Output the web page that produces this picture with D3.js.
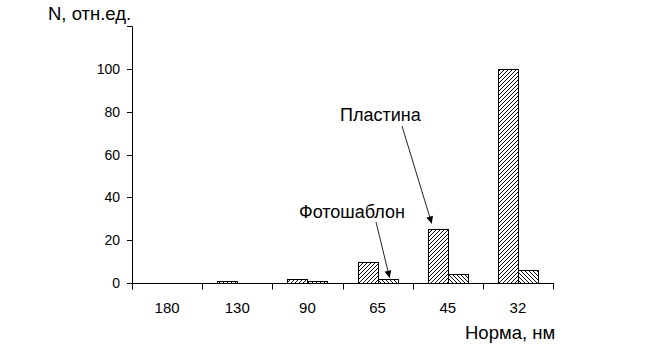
<!DOCTYPE html>
<html>
<head>
<meta charset="utf-8">
<script src="https://cdn.jsdelivr.net/npm/d3@7"></script>
<style>
  html, body { margin: 0; padding: 0; background: #fff; }
  svg text { font-family: "Liberation Sans", Arial, sans-serif; fill: #000; }
</style>
</head>
<body>
<div id="chart"></div>
<script>
// ---- data ----
const categories = ["180", "130", "90", "65", "45", "32"];
const plastina   = [0, 1, 2, 10, 25, 100];   // "Пластина"
const photomask  = [0, 0, 1, 2, 4, 6];       // "Фотошаблон"
const yTicks     = [0, 20, 40, 60, 80, 100, 120];
const yLabels    = [0, 20, 40, 60, 80, 100];

const width = 663, height = 352;
const margin = { top: 26, right: 110, bottom: 69, left: 132 };
const innerW = width - margin.left - margin.right;
const innerH = height - margin.top - margin.bottom;

const svg = d3.select("#chart").append("svg")
  .attr("width", width)
  .attr("height", height);

// hatch patterns
const defs = svg.append("defs");
defs.append("pattern")
  .attr("id", "hatchFwd")
  .attr("patternUnits", "userSpaceOnUse")
  .attr("width", 4).attr("height", 4)
  .append("path")
  .attr("d", "M-1,1 L1,-1 M0,4 L4,0 M3,5 L5,3")
  .attr("stroke", "#000").attr("stroke-width", 1);
defs.append("pattern")
  .attr("id", "hatchBack")
  .attr("patternUnits", "userSpaceOnUse")
  .attr("width", 4).attr("height", 4)
  .append("path")
  .attr("d", "M-1,3 L1,5 M0,0 L4,4 M3,-1 L5,1")
  .attr("stroke", "#000").attr("stroke-width", 1);
defs.append("marker")
  .attr("id", "arrowHead")
  .attr("viewBox", "0 0 10 10")
  .attr("refX", 10).attr("refY", 5)
  .attr("markerWidth", 9).attr("markerHeight", 7)
  .attr("markerUnits", "userSpaceOnUse")
  .attr("orient", "auto")
  .append("path")
  .attr("d", "M0,0 L10,5 L0,10 Z")
  .attr("fill", "#000");

const g = svg.append("g")
  .attr("transform", `translate(${margin.left},${margin.top})`);

// ---- scales ----
const x = d3.scaleBand().domain(categories).range([0, innerW]).padding(0);
const sub = d3.scaleBand().domain(["plastina", "photomask"])
  .range([15, x.bandwidth() - 15]).padding(0);
const y = d3.scaleLinear().domain([0, 120]).range([innerH, 0]);

const series = [
  { key: "plastina", values: plastina, fill: "url(#hatchFwd)" },
  { key: "photomask", values: photomask, fill: "url(#hatchBack)" }
];

// ---- bars ----
series.forEach(s => {
  g.selectAll(null)
    .data(categories.map((c, i) => ({ c, v: s.values[i] })).filter(d => d.v > 0))
    .enter()
    .append("rect")
    .attr("x", d => Math.round(x(d.c) + sub(s.key)) + 0.5)
    .attr("y", d => Math.round(y(d.v)) + 0.5)
    .attr("width", Math.round(sub.bandwidth()))
    .attr("height", d => Math.round(y(0)) - Math.round(y(d.v)))
    .attr("fill", s.fill)
    .attr("stroke", "#000")
    .attr("stroke-width", 1);
});

// ---- y axis ----
const axisX = 0.5;
g.append("line")
  .attr("x1", axisX).attr("x2", axisX)
  .attr("y1", Math.round(y(120)) + 0.5).attr("y2", Math.round(y(0)) + 6.5)
  .attr("stroke", "#000");
g.selectAll(".ytick")
  .data(yTicks)
  .enter()
  .append("line")
  .attr("x1", -5).attr("x2", axisX)
  .attr("y1", d => Math.round(y(d)) + 0.5)
  .attr("y2", d => Math.round(y(d)) + 0.5)
  .attr("stroke", "#000");
g.selectAll(".ylab")
  .data(yLabels)
  .enter()
  .append("text")
  .attr("x", -12)
  .attr("y", d => y(d))
  .attr("dy", "0.36em")
  .attr("text-anchor", "end")
  .attr("font-size", 14)
  .text(d => d);

// ---- x axis ----
g.append("line")
  .attr("x1", 0).attr("x2", innerW)
  .attr("y1", Math.round(y(0)) + 0.5).attr("y2", Math.round(y(0)) + 0.5)
  .attr("stroke", "#000");
g.selectAll(".xtick")
  .data(categories.concat([null]))
  .enter()
  .append("line")
  .attr("x1", (d, i) => Math.round(i < categories.length ? x(d) : innerW) + 0.5)
  .attr("x2", (d, i) => Math.round(i < categories.length ? x(d) : innerW) + 0.5)
  .attr("y1", Math.round(y(0)))
  .attr("y2", Math.round(y(0)) + 6.5)
  .attr("stroke", "#000");
g.selectAll(".xlab")
  .data(categories)
  .enter()
  .append("text")
  .attr("x", d => x(d) + x.bandwidth() / 2)
  .attr("y", innerH + 30)
  .attr("text-anchor", "middle")
  .attr("font-size", 15)
  .text(d => d);

// ---- axis titles ----
svg.append("text")
  .attr("x", 48).attr("y", 20)
  .attr("font-size", 18.5)
  .text("N, отн.ед.");
svg.append("text")
  .attr("x", 465).attr("y", 339)
  .attr("font-size", 18.5)
  .text("Норма, нм");

// ---- annotations with arrows ----
const annotations = [
  { text: "Пластина", tx: 340, ty: 121, series: "plastina", cat: "45", from: [402, 126], off: [-6, -6] },
  { text: "Фотошаблон", tx: 299, ty: 218, series: "photomask", cat: "65", from: [376, 222], off: [2, -1] }
];
annotations.forEach(a => {
  svg.append("text")
    .attr("x", a.tx).attr("y", a.ty)
    .attr("font-size", 18)
    .text(a.text);
  const vals = a.series === "plastina" ? plastina : photomask;
  const v = vals[categories.indexOf(a.cat)];
  const tipX = margin.left + x(a.cat) + sub(a.series) + sub.bandwidth() / 2 + a.off[0];
  const tipY = margin.top + y(v) + a.off[1];
  svg.append("line")
    .attr("x1", a.from[0]).attr("y1", a.from[1])
    .attr("x2", tipX).attr("y2", tipY)
    .attr("stroke", "#222")
    .attr("stroke-width", 1)
    .attr("marker-end", "url(#arrowHead)");
});
</script>
</body>
</html>
